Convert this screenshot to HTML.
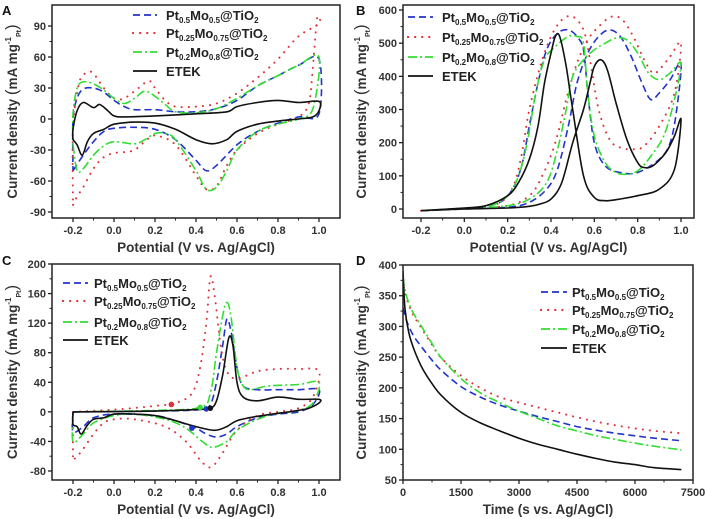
<!DOCTYPE html>
<html><head><meta charset="utf-8"><style>
body{margin:0;background:#fff;}
svg{display:block;font-family:"Liberation Sans",Arial,sans-serif;font-weight:bold;}
</style></head><body>
<svg id="fig" width="708" height="519" viewBox="0 0 708 519"></svg>
<script>
// ---- data: panel A (CV)
const aBlack=[[-0.2,-20],[-0.18,-25],[-0.155,-35],[-0.13,-22],[-0.1,-14],[-0.05,-10],[0,-5],[0.1,-3],[0.2,-4],[0.3,-10],[0.4,-20],[0.48,-24],[0.55,-20],[0.6,-12],[0.7,-5],[0.8,-2],[0.9,0],[0.97,2],[1.0,8],[1.0,17],[0.9,16],[0.8,18],[0.7,16],[0.6,12],[0.55,7],[0.4,5],[0.2,3],[0.05,2],[0,3],[-0.03,8],[-0.07,14],[-0.1,11],[-0.15,16],[-0.18,8],[-0.2,-10],[-0.2,-20]];
const aBlue=[[-0.2,-50],[-0.15,-35],[-0.1,-22],[-0.05,-12],[0,-9],[0.1,-8],[0.2,-10],[0.3,-20],[0.4,-40],[0.45,-50],[0.5,-45],[0.6,-25],[0.7,-12],[0.8,-4],[0.9,2],[1.0,5],[1.0,58],[0.9,52],[0.8,42],[0.7,32],[0.6,18],[0.5,10],[0.4,7],[0.3,7],[0.2,9],[0.1,9],[0.05,12],[0,18],[-0.05,26],[-0.1,30],[-0.15,29],[-0.18,20],[-0.2,0],[-0.2,-50]];
const aRed=[[-0.2,-83],[-0.18,-75],[-0.15,-66],[-0.1,-48],[-0.05,-37],[0,-33],[0.05,-32],[0.1,-30],[0.15,-22],[0.2,-16],[0.3,-25],[0.4,-55],[0.45,-68],[0.5,-65],[0.55,-45],[0.6,-30],[0.7,-14],[0.8,-5],[0.9,2],[0.95,15],[0.97,50],[0.99,97],[1.0,92],[0.9,80],[0.8,58],[0.7,40],[0.6,25],[0.5,15],[0.4,12],[0.3,12],[0.25,18],[0.2,30],[0.17,37],[0.12,30],[0.05,20],[0,20],[-0.05,30],[-0.1,44],[-0.13,45],[-0.17,35],[-0.2,-10],[-0.2,-83]];
const aGreen=[[-0.2,-25],[-0.18,-50],[-0.15,-48],[-0.1,-35],[-0.05,-26],[0,-22],[0.1,-24],[0.15,-20],[0.2,-14],[0.25,-14],[0.3,-20],[0.4,-50],[0.45,-68],[0.5,-66],[0.55,-50],[0.6,-30],[0.7,-12],[0.8,-5],[0.9,0],[0.97,10],[1.0,60],[0.9,52],[0.8,42],[0.7,32],[0.6,20],[0.5,10],[0.4,6],[0.3,7],[0.25,14],[0.2,22],[0.15,27],[0.1,20],[0.05,15],[0,20],[-0.05,28],[-0.1,34],[-0.15,36],[-0.18,30],[-0.2,5],[-0.2,-25]];
// ---- panel B
const bBlack=[[-0.2,-5],[0,0],[0.2,3],[0.3,8],[0.35,15],[0.4,30],[0.45,80],[0.5,200],[0.55,300],[0.58,380],[0.6,430],[0.63,450],[0.66,420],[0.7,320],[0.75,210],[0.8,140],[0.83,125],[0.87,130],[0.93,170],[0.97,220],[1.0,270],[0.97,120],[0.9,60],[0.8,40],[0.7,28],[0.65,25],[0.6,35],[0.55,100],[0.5,300],[0.47,430],[0.44,520],[0.42,520],[0.4,470],[0.37,380],[0.34,250],[0.3,150],[0.25,80],[0.2,40],[0.1,10],[0,3],[-0.2,-5]];
const bBlue=[[-0.2,-5],[0,0],[0.2,5],[0.3,20],[0.38,60],[0.43,120],[0.48,250],[0.52,380],[0.57,470],[0.62,520],[0.67,540],[0.72,520],[0.77,460],[0.82,380],[0.86,330],[0.9,350],[0.95,390],[1.0,440],[0.98,300],[0.95,200],[0.9,150],[0.8,110],[0.72,110],[0.65,130],[0.6,200],[0.57,350],[0.55,480],[0.52,520],[0.48,540],[0.43,530],[0.38,480],[0.34,380],[0.3,250],[0.26,120],[0.2,40],[0.1,8],[-0.2,-5]];
const bRed=[[-0.2,-5],[0,2],[0.2,10],[0.3,40],[0.36,100],[0.42,200],[0.47,330],[0.52,440],[0.57,510],[0.62,550],[0.68,580],[0.73,570],[0.78,520],[0.83,450],[0.87,410],[0.9,420],[0.95,460],[1.0,500],[0.97,350],[0.9,250],[0.83,190],[0.78,180],[0.72,185],[0.67,210],[0.62,300],[0.58,450],[0.55,540],[0.5,580],[0.45,570],[0.4,520],[0.35,430],[0.3,300],[0.26,150],[0.22,60],[0.15,15],[0,2],[-0.2,-5]];
const bGreen=[[-0.2,-5],[0,1],[0.2,10],[0.3,30],[0.38,80],[0.43,180],[0.47,300],[0.5,400],[0.55,450],[0.6,480],[0.65,500],[0.7,515],[0.75,510],[0.8,470],[0.85,410],[0.9,390],[0.95,410],[1.0,440],[0.97,330],[0.92,220],[0.85,150],[0.8,115],[0.75,105],[0.7,110],[0.65,140],[0.6,220],[0.57,350],[0.55,500],[0.52,520],[0.48,520],[0.42,490],[0.37,450],[0.33,350],[0.29,200],[0.25,100],[0.2,40],[0.1,8],[-0.2,-5]];
// ---- panel C
const cBlack=[[-0.2,0],[0.2,1],[0.4,3],[0.47,5],[0.5,15],[0.53,50],[0.56,100],[0.58,90],[0.6,40],[0.63,20],[0.7,15],[0.8,20],[0.9,17],[1.0,17],[1.0,12],[0.95,5],[0.9,2],[0.8,-2],[0.7,-6],[0.6,-12],[0.55,-20],[0.49,-25],[0.4,-20],[0.3,-12],[0.2,-5],[0.1,-3],[0,-3],[-0.05,-8],[-0.1,-10],[-0.13,-18],[-0.16,-30],[-0.18,-20],[-0.2,-17],[-0.2,0]];
const cBlue=[[-0.2,0],[0.2,1],[0.42,3],[0.47,10],[0.5,40],[0.53,90],[0.55,125],[0.57,110],[0.6,60],[0.63,35],[0.7,30],[0.8,30],[0.9,30],[1.0,30],[0.97,10],[0.9,0],[0.8,-3],[0.7,-8],[0.6,-20],[0.55,-30],[0.5,-34],[0.45,-30],[0.4,-22],[0.3,-12],[0.2,-5],[0,-3],[-0.1,-8],[-0.15,-20],[-0.2,-27],[-0.2,0]];
const cGreen=[[-0.2,0],[0.2,2],[0.42,6],[0.47,25],[0.5,80],[0.53,130],[0.55,148],[0.57,130],[0.6,60],[0.63,35],[0.67,30],[0.75,35],[0.9,37],[1.0,40],[0.97,12],[0.9,2],[0.8,-2],[0.7,-10],[0.6,-25],[0.55,-40],[0.48,-48],[0.43,-40],[0.35,-22],[0.25,-10],[0.1,-3],[0,-5],[-0.1,-15],[-0.15,-30],[-0.2,-40],[-0.2,0]];
const cRed=[[-0.2,0],[0,3],[0.2,8],[0.3,12],[0.38,25],[0.42,60],[0.45,120],[0.47,182],[0.49,160],[0.52,90],[0.55,55],[0.6,45],[0.7,55],[0.8,58],[0.9,58],[1.0,55],[0.97,20],[0.9,5],[0.8,0],[0.7,-5],[0.6,-25],[0.52,-60],[0.47,-75],[0.42,-65],[0.35,-40],[0.25,-20],[0.1,-10],[0,-10],[-0.05,-15],[-0.1,-30],[-0.15,-50],[-0.19,-63],[-0.2,-60],[-0.2,0]];
const cMarkers=[[0.28,10,'#e0303a'],[0.42,6,'#33dd33'],[0.45,4,'#2233cc'],[0.47,5,'#111'],[0.38,-22,'#2233cc']];
// ---- panel D (chronoamperometry)
const dTime=[0,50,150,300,500,750,1000,1500,2000,2500,3000,3500,4000,4500,5000,5500,6000,6500,7200];
const dBlack=[390,330,290,260,232,207,187,160,143,130,118,108,100,92,85,79,75,70,67];
const dBlue=[330,318,300,282,265,245,228,202,185,172,162,153,145,137,131,126,122,118,114];
const dRed=[375,355,335,315,295,270,248,220,200,185,176,168,160,152,145,139,134,130,126];
const dGreen=[380,360,338,318,298,272,248,215,192,176,162,150,138,130,122,116,110,105,99];
// tick labels
const cvXTicks=[-0.2,0.0,0.2,0.4,0.6,0.8,1.0];
const aYTicks=[-90,-60,-30,0,30,60,90];
const bYTicks=[0,100,200,300,400,500,600];
const cYTicks=[-80,-40,0,40,80,120,160,200];
const dXTicks=[0,1500,3000,4500,6000,7500];
const dYTicks=[50,100,150,200,250,300,350,400];

const NS='http://www.w3.org/2000/svg';
const svg=document.getElementById('fig');
function el(tag,attrs,parent){const e=document.createElementNS(NS,tag);for(const k in attrs)e.setAttribute(k,attrs[k]);(parent||svg).appendChild(e);return e;}
const STY={
 blue:{stroke:'#2233cc',dash:'7 4',cap:'butt',w:1.6},
 red:{stroke:'#e0303a',dash:'0.1 7',cap:'round',w:2},
 green:{stroke:'#33dd33',dash:'9 3 2 3',cap:'butt',w:1.6},
 black:{stroke:'#111',dash:'',cap:'butt',w:1.6}
};
function mkScale(d0,d1,p0,p1){return v=>p0+(v-d0)*(p1-p0)/(d1-d0);}
function smoothPath(P){
 let d='M'+P[0][0].toFixed(1)+','+P[0][1].toFixed(1);
 for(let i=0;i<P.length-1;i++){
  const p0=P[Math.max(0,i-1)],p1=P[i],p2=P[i+1],p3=P[Math.min(P.length-1,i+2)];
  const k=1/6;
  const c1=[p1[0]+(p2[0]-p0[0])*k,p1[1]+(p2[1]-p0[1])*k];
  const c2=[p2[0]-(p3[0]-p1[0])*k,p2[1]-(p3[1]-p1[1])*k];
  d+=' C'+c1[0].toFixed(1)+','+c1[1].toFixed(1)+' '+c2[0].toFixed(1)+','+c2[1].toFixed(1)+' '+p2[0].toFixed(1)+','+p2[1].toFixed(1);
 }
 return d;
}

function panel(cfg){
 const g=el('g',{});
 
 
 const f=cfg.frame;
 const sx=mkScale(cfg.xd[0],cfg.xd[1],cfg.xp[0],cfg.xp[1]);
 const sy=mkScale(cfg.yd[0],cfg.yd[1],cfg.yp[0],cfg.yp[1]);
 const cid='clip-'+cfg.name;
 const cp=el('clipPath',{id:cid},g);el('rect',{x:f[0],y:f[1],width:f[2]-f[0],height:f[3]-f[1]},cp);
 const plot=el('g',{'clip-path':'url(#'+cid+')'},g);
 
 
 cfg.series.forEach(s=>{
  const st=STY[s.color];
  const P=s.pts.map(p=>[sx(p[0]),sy(p[1])]);
  const pl=el('path',{d:smoothPath(P),fill:'none',stroke:st.stroke,'stroke-width':st.w,'stroke-dasharray':st.dash,'stroke-linecap':st.cap,'stroke-linejoin':'round'},plot);
  
  
 });
 (cfg.markers||[]).forEach(m=>{
  const c=el('circle',{cx:sx(m[0]),cy:sy(m[1]),r:2.8,fill:m[2]},plot);
  
  
 });
 const fr=el('rect',{x:f[0],y:f[1],width:f[2]-f[0],height:f[3]-f[1],fill:'none',stroke:'#222','stroke-width':1.5},g);
 
 
 cfg.xt.forEach((t,i)=>{
  const x=sx(t);
  el('line',{x1:x,x2:x,y1:f[3],y2:f[3]+4,stroke:'#222','stroke-width':1.3},g);
  if(i<cfg.xt.length-1){const xm=sx(t+(cfg.xt[1]-cfg.xt[0])/2);el('line',{x1:xm,x2:xm,y1:f[3],y2:f[3]+2.5,stroke:'#222','stroke-width':1},g);}
  const tx=el('text',{x:x,y:f[3]+16,'font-size':11,'text-anchor':'middle',fill:'#333'},g);
  tx.textContent=cfg.xfmt(t);
  
  
 });
 cfg.yt.forEach((t,i)=>{
  const y=sy(t);
  el('line',{x1:f[0]-4,x2:f[0],y1:y,y2:y,stroke:'#222','stroke-width':1.3},g);
  if(i<cfg.yt.length-1){const ym=sy(t+(cfg.yt[1]-cfg.yt[0])/2);el('line',{x1:f[0]-2.5,x2:f[0],y1:ym,y2:ym,stroke:'#222','stroke-width':1},g);}
  const tx=el('text',{x:f[0]-6,y:y+4,'font-size':11,'text-anchor':'end',fill:'#333'},g);
  tx.textContent=String(t);
  
  
 });
 const xt=el('text',{x:(f[0]+f[2])/2,y:f[3]+34,'font-size':13.5,'text-anchor':'middle',fill:'#333'},g);
 xt.textContent=cfg.xtitle;
 
 
 const yx=cfg.ytx, yy=(f[1]+f[3])/2;
 const yt=el('text',{x:yx,y:yy,'font-size':13.5,'text-anchor':'middle',fill:'#333',transform:'rotate(-90 '+yx+' '+yy+')'},g);
 yt.innerHTML='Current density <tspan font-size="17" font-weight="normal">(</tspan>mA mg<tspan font-size="8" dy="-6">-1</tspan><tspan font-size="7" dy="10">Pt</tspan><tspan font-size="17" font-weight="normal" dy="-4">)</tspan>';
 
 
 const lt=el('text',{x:cfg.letter[0],y:cfg.letter[1],'font-size':13,fill:'#111'},g);
 lt.textContent=cfg.letterText;
 
 
 const L=cfg.legend;
 const lg=el('g',{},g);
 
 
 const labels=[['0.5','0.5'],['0.25','0.75'],['0.2','0.8'],null];
 ['blue','red','green','black'].forEach((c,i)=>{
  const y=L.rows[i];const st=STY[c];
  el('line',{x1:L.x0,x2:L.x1,y1:y,y2:y,stroke:st.stroke,'stroke-width':st.w+0.2,'stroke-dasharray':st.dash,'stroke-linecap':st.cap},lg);
  const t=el('text',{x:L.tx,y:y+5,'font-size':13,fill:'#222'},lg);
  const lb=labels[i];
  if(lb) t.innerHTML='Pt<tspan font-size="8" dy="3">'+lb[0]+'</tspan><tspan dy="-3">Mo</tspan><tspan font-size="8" dy="3">'+lb[1]+'</tspan><tspan dy="-3">@TiO</tspan><tspan font-size="8" dy="3">2</tspan>';
  else t.textContent='ETEK';
  
  
 });
}
const vfmt=v=>v.toFixed(1);
const xtitle='Potential (V vs. Ag/AgCl)';
panel({name:'panel-a',frame:[52,5,340,218],xd:[-0.2,1.0],xp:[73,319],yd:[-90,90],yp:[212,26],xt:cvXTicks,yt:aYTicks,xfmt:vfmt,xtitle:xtitle,ytx:17,letter:[2,15],letterText:'A',
 legend:{x0:133,x1:157,tx:166,rows:[15,33,52,71]},
 series:[{color:'blue',pts:aBlue},{color:'red',pts:aRed},{color:'green',pts:aGreen},{color:'black',pts:aBlack}]});
panel({name:'panel-b',frame:[403,5,694,218],xd:[-0.2,1.0],xp:[421,681],yd:[0,600],yp:[209,10],xt:cvXTicks,yt:bYTicks,xfmt:vfmt,xtitle:xtitle,ytx:366,letter:[356,15],letterText:'B',
 legend:{x0:408,x1:433,tx:442,rows:[17,37,57,76]},
 series:[{color:'blue',pts:bBlue},{color:'red',pts:bRed},{color:'green',pts:bGreen},{color:'black',pts:bBlack}]});
panel({name:'panel-c',frame:[52,264,340,480],xd:[-0.2,1.0],xp:[73,319],yd:[-80,200],yp:[471,264],xt:cvXTicks,yt:cYTicks,xfmt:vfmt,xtitle:xtitle,ytx:17,letter:[2,265],letterText:'C',
 legend:{x0:63,x1:88,tx:94,rows:[283,301,322,340]},markers:cMarkers,
 series:[{color:'blue',pts:cBlue},{color:'red',pts:cRed},{color:'green',pts:cGreen},{color:'black',pts:cBlack}]});
const zip=a=>dTime.map((t,i)=>[t,a[i]]);
panel({name:'panel-d',frame:[403,265,693,480],xd:[0,7500],xp:[403,693],yd:[50,400],yp:[480,265],xt:dXTicks,yt:dYTicks,xfmt:v=>String(v),xtitle:'Time (s vs. Ag/AgCl)',ytx:366,letter:[356,265],letterText:'D',
 legend:{x0:541,x1:567,tx:572,rows:[292,310,329,348]},
 series:[{color:'blue',pts:zip(dBlue)},{color:'red',pts:zip(dRed)},{color:'green',pts:zip(dGreen)},{color:'black',pts:zip(dBlack)}]});
</script>
</body></html>
